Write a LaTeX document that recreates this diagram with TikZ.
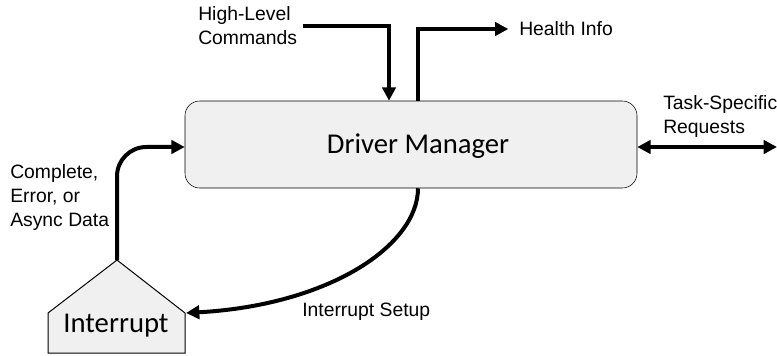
\documentclass[tikz,border=0pt]{standalone}
\usepackage{fontspec}
\setmainfont{Liberation Sans}
\newfontfamily\boxfont{Carlito}
\usetikzlibrary{arrows.meta}
\definecolor{boxgray}{HTML}{F0F0F0}
\tikzset{
  flow/.style={line width=3pt,-{Triangle[length=10pt,width=10pt]}},
  lbl/.style={align=left,anchor=west,inner sep=0pt,font=\fontsize{14.5}{18}\selectfont},
  big/.style={font=\boxfont\fontsize{21.5}{25}\selectfont},
}
\begin{document}
\begin{tikzpicture}[x=0.75pt,y=-0.75pt]
  \useasboundingbox (0,0) rectangle (777,356);
  % driver manager box
  \node[draw,fill=boxgray,rounded corners=11pt,minimum width=339pt,minimum height=65.25pt] (mgr) at (411,144.5) {};
  \node[big] (mgrtxt) at (418,146) {Driver Manager};
  % interrupt block
  \path[draw,fill=boxgray,line width=0.75pt] (117,260) -- (185,313) -- (185,353) -- (48,353) -- (48,313) -- cycle;
  \coordinate (intapex) at (117,260);
  \coordinate (intport) at (186,313);
  \node[big] (int) at (116,326) {Interrupt};
  % labels
  \node[lbl] (hlc) at (198,26) {High-Level\\Commands};
  \node[lbl] (hinfo) at (519,29) {Health Info};
  \node[lbl] (tsr) at (663,117) {Task-Specific\\Requests};
  \node[lbl] (ced) at (10,198) {Complete,\\Error, or\\Async Data};
  \node[lbl] (isetup) at (302,312) {Interrupt Setup};
  \coordinate (tsend) at (777,147);
  % connectors
  \path[draw,flow] ([xshift=4pt]hlc.east) -| (mgr.north -| 389,0);
  \path[draw,flow] (mgr.north -| 418,0) |- ([xshift=-8pt]hinfo.west);
  \path[draw,line width=3pt,{Triangle[length=10pt,width=10pt]}-{Triangle[length=10pt,width=10pt]}] (mgr.east |- tsend) -- (tsend);
  \path[draw,flow,rounded corners=22pt] (intapex) |- (mgr.west |- 0,147);
  \path[draw,flow] (mgr.south -| 418,0) .. controls (418,245) and (330,305) .. (intport);
\end{tikzpicture}
\end{document}
